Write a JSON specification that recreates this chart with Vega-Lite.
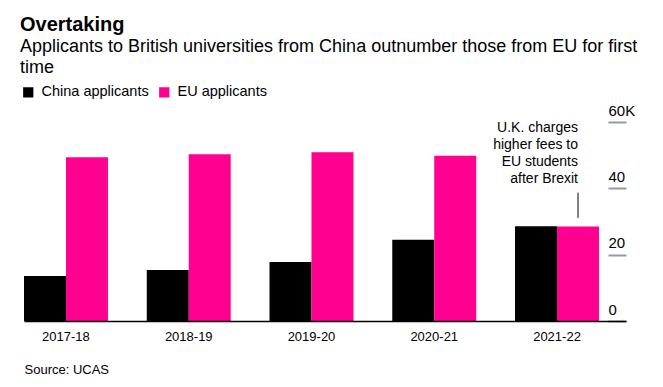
{
  "$schema": "https://vega.github.io/schema/vega-lite/v6.json",
  "width": 602,
  "height": 199,
  "autosize": "none",
  "padding": {"left": 24, "top": 122, "right": 37, "bottom": 66},
  "config": {
    "font": "Liberation Sans",
    "view": {"stroke": null},
    "axis": {"labelColor": "#000000", "labelFont": "Liberation Sans"}
  },
  "title": {
    "text": "Overtaking",
    "subtitle": ["Applicants to British universities from China outnumber those from EU for first", "time"],
    "anchor": "start",
    "frame": "group",
    "dx": -4,
    "offset": 8,
    "fontSize": 20,
    "fontWeight": "bold",
    "color": "#000000",
    "subtitleFontSize": 18,
    "subtitleColor": "#000000",
    "subtitleLineHeight": 21,
    "subtitlePadding": 3
  },
  "data": {
    "values": [
      {"year": "2017-18", "series": "China applicants", "value": 13.6},
      {"year": "2017-18", "series": "EU applicants", "value": 49.4},
      {"year": "2018-19", "series": "China applicants", "value": 15.4},
      {"year": "2018-19", "series": "EU applicants", "value": 50.3},
      {"year": "2019-20", "series": "China applicants", "value": 17.8},
      {"year": "2019-20", "series": "EU applicants", "value": 50.9},
      {"year": "2020-21", "series": "China applicants", "value": 24.5},
      {"year": "2020-21", "series": "EU applicants", "value": 49.8},
      {"year": "2021-22", "series": "China applicants", "value": 28.6},
      {"year": "2021-22", "series": "EU applicants", "value": 28.5}
    ]
  },
  "layer": [
    {
      "mark": {"type": "bar"},
      "encoding": {
        "x": {
          "field": "year",
          "type": "nominal",
          "scale": {"paddingInner": 0.316, "paddingOuter": 0.11, "align": 0},
          "axis": {
            "title": "Source: UCAS",
            "titleAnchor": "start",
            "titleAlign": "left",
            "titleFontWeight": "normal",
            "titleFontSize": 13,
            "titleColor": "#000000",
            "titlePadding": 20,
            "labelAngle": 0,
            "labelFontSize": 13,
            "labelPadding": 9,
            "ticks": false,
            "domainColor": "#000000",
            "domainWidth": 1.5,
            "zindex": 2
          }
        },
        "xOffset": {
          "field": "series",
          "type": "nominal",
          "scale": {"paddingInner": 0, "paddingOuter": 0}
        },
        "y": {
          "field": "value",
          "type": "quantitative",
          "scale": {"domain": [0, 60]},
          "axis": {
            "orient": "right",
            "title": null,
            "values": [0, 20, 40, 60],
            "domain": false,
            "grid": false,
            "ticks": true,
            "tickSize": -18,
            "tickColor": "#999999",
            "tickWidth": 2,
            "labelAlign": "left",
            "labelBaseline": "bottom",
            "labelOffset": -4,
            "labelPadding": 0,
            "labelFontSize": 15,
            "labelExpr": "datum.value == 60 ? '60K' : (datum.value == 0 ? '\u20070' : datum.label)"
          }
        },
        "color": {
          "field": "series",
          "type": "nominal",
          "scale": {"domain": ["China applicants", "EU applicants"], "range": ["#000000", "#ff0090"]},
          "legend": {
            "title": null,
            "orient": "none",
            "legendX": -3,
            "legendY": -37,
            "direction": "horizontal",
            "symbolType": "square",
            "symbolSize": 105,
            "symbolStrokeWidth": 0,
            "labelFontSize": 14.5,
            "labelOffset": 6,
            "labelColor": "#000000",
            "columnPadding": 8,
            "symbolOffset": 0
          }
        }
      }
    },
    {
      "data": {"values": [{}]},
      "mark": {"type": "rule", "color": "#000000", "strokeWidth": 1},
      "encoding": {
        "x": {"datum": "2021-22", "type": "nominal"},
        "xOffset": {"datum": "EU applicants", "type": "nominal"},
        "y": {"datum": 31.1, "type": "quantitative"},
        "y2": {"datum": 38.7}
      }
    },
    {
      "data": {"values": [{}]},
      "mark": {
        "type": "text",
        "text": ["U.K. charges", "higher fees to", "EU students", "after Brexit"],
        "align": "right",
        "baseline": "top",
        "fontSize": 14,
        "lineHeight": 16.8,
        "color": "#000000"
      },
      "encoding": {
        "x": {"datum": "2021-22", "type": "nominal"},
        "xOffset": {"datum": "EU applicants", "type": "nominal"},
        "y": {"datum": 60.2, "type": "quantitative"}
      }
    }
  ]
}
